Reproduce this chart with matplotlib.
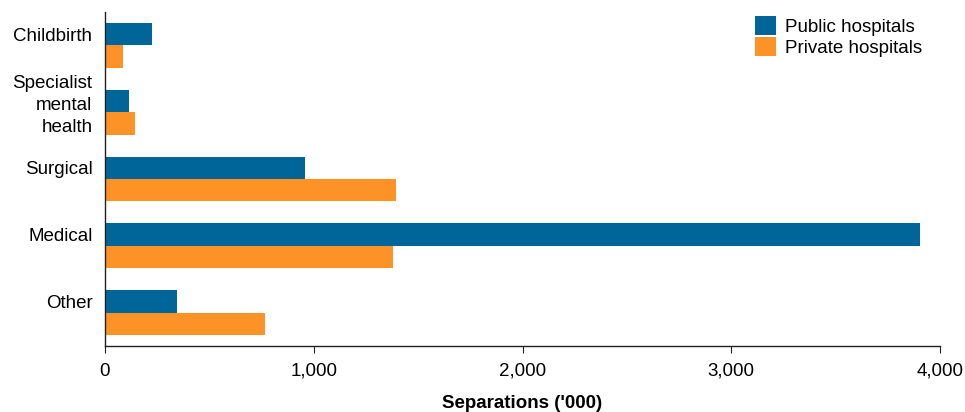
import matplotlib
matplotlib.use("Agg")
import matplotlib.pyplot as plt
import numpy as np
from matplotlib.ticker import FuncFormatter

categories = ["Childbirth", "Specialist\nmental\nhealth", "Surgical", "Medical", "Other"]
public = [226, 114, 960, 3905, 344]
private = [86, 144, 1395, 1382, 768]
series_names = ["Public hospitals", "Private hospitals"]
colors = ["#00669A", "#FD9327"]

plt.rcParams['font.family'] = ['Liberation Sans', 'DejaVu Sans']
FS = 13.5

fig = plt.figure(figsize=(9.65, 4.12), dpi=100)
ax = fig.add_axes([105/965, 1-346/412, 835/965, 334/412])

y = np.arange(len(categories))
h = 0.335
ax.barh(y - h/2, public, height=h, color=colors[0], label=series_names[0])
ax.barh(y + h/2, private, height=h, color=colors[1], label=series_names[1])

ax.set_ylim(len(categories) - 0.5, -0.5)
ax.set_xlim(0, 4000)
ax.set_yticks(y - h/2)
ax.set_yticklabels(categories, fontsize=FS, linespacing=1.38)
ax.set_xticks([0, 1000, 2000, 3000, 4000])
ax.xaxis.set_major_formatter(FuncFormatter(lambda v, p: f"{int(v):,}"))
ax.tick_params(axis='x', labelsize=FS, length=5, width=0.8, pad=7, color='#222222')
ax.tick_params(axis='y', length=0, pad=9)
for s in ['top', 'right']:
    ax.spines[s].set_visible(False)
for s in ['left', 'bottom']:
    ax.spines[s].set_color('#222222')
    ax.spines[s].set_linewidth(1.0)
ax.set_xlabel("Separations ('000)", fontsize=FS, fontweight='bold', labelpad=11)

leg = ax.legend(loc='upper right', bbox_to_anchor=(0.987, 1.01), frameon=False,
                fontsize=FS, handlelength=1.1, handleheight=1.15,
                handletextpad=0.45, labelspacing=0.08, borderaxespad=0)

fig.savefig("out.png", dpi=100)
